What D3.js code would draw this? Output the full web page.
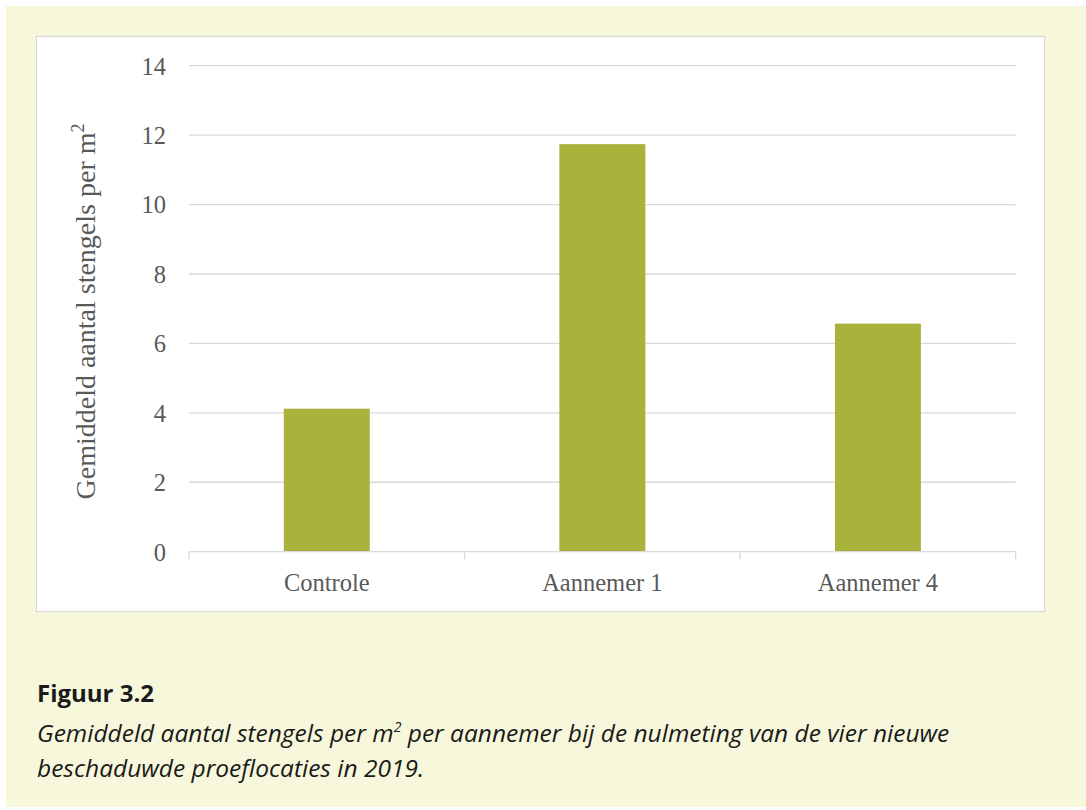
<!DOCTYPE html>
<html><head><meta charset="utf-8">
<script src="https://cdn.jsdelivr.net/npm/d3@7"></script>
<style>body{margin:0;background:#fff;} svg{display:block;}</style>
</head><body>
<svg id="c" width="1086" height="810"></svg>
<script>
const categories = ["Controle", "Aannemer 1", "Aannemer 4"];
const values = [4.12, 11.74, 6.57];
const yTicks = [0, 2, 4, 6, 8, 10, 12, 14];
const yTitle = "Gemiddeld aantal stengels per m";
const captionTitle = "Figuur 3.2";
const captionLines = ["Gemiddeld aantal stengels per m|2| per aannemer bij de nulmeting van de vier nieuwe", "beschaduwde proeflocaties in 2019."];

const svg = d3.select("#c");
svg.append("rect").attr("x", 6).attr("y", 6).attr("width", 1080).attr("height", 801).attr("fill", "#F7F7DB");
svg.append("rect").attr("x", 36.5).attr("y", 36.5).attr("width", 1008).attr("height", 575).attr("fill", "#fff").attr("stroke", "#D9D9D9").attr("stroke-width", 1.2);

const L = 189, R = 1015.7, T = 65.7, B = 551.7;
const x = d3.scaleBand().domain(categories).range([L, R]).padding(0);
const y = d3.scaleLinear().domain([0, 14]).range([B, T]);
const serif = "'Liberation Serif', 'Times New Roman', serif";

// gridlines
svg.append("g").selectAll("line").data(yTicks.filter(d => d > 0)).join("line")
  .attr("x1", L).attr("x2", R).attr("y1", d => y(d)).attr("y2", d => y(d))
  .attr("stroke", "#D9D9D9").attr("stroke-width", 1.3);

// bars
const barFrac = 0.312;
svg.append("g").selectAll("rect").data(values).join("rect")
  .attr("x", (d, i) => x(categories[i]) + x.bandwidth() * (1 - barFrac) / 2)
  .attr("width", x.bandwidth() * barFrac)
  .attr("y", d => y(d)).attr("height", d => y(0) - y(d))
  .attr("fill", "#A9B23A");

// x axis
const xAxis = svg.append("g").attr("transform", `translate(0,${B})`)
  .call(d3.axisBottom(x).tickSize(0).tickPadding(0));
xAxis.select(".domain").remove();
xAxis.append("line").attr("x1", L).attr("x2", R).attr("stroke", "#D9D9D9").attr("stroke-width", 1.3);
const bounds = categories.map(c => x(c)).concat([R]);
xAxis.selectAll(".bt").data(bounds).join("line").attr("class", "bt")
  .attr("x1", d => d).attr("x2", d => d).attr("y1", 0).attr("y2", 7.5)
  .attr("stroke", "#D9D9D9").attr("stroke-width", 1.3);
xAxis.selectAll(".tick text").attr("y", 39).attr("dy", null)
  .attr("font-family", serif).attr("font-size", 24.5).attr("fill", "#595959");

// y axis
const yAxis = svg.append("g").attr("transform", `translate(${L},0)`)
  .call(d3.axisLeft(y).tickValues(yTicks).tickSize(0).tickPadding(23));
yAxis.select(".domain").remove();
yAxis.selectAll(".tick text").attr("dy", "0.34em")
  .attr("font-family", serif).attr("font-size", 24.5).attr("fill", "#595959");

// y title
const yt = svg.append("text")
  .attr("transform", `translate(95,311.5) rotate(-90)`)
  .attr("text-anchor", "middle").attr("font-family", serif).attr("font-size", 28).attr("fill", "#595959");
yt.append("tspan").text(yTitle);
yt.append("tspan").attr("dy", -11).attr("font-size", 18).text("2");

// caption
const sans = "'Open Sans', 'Noto Sans', sans-serif";
svg.append("text").attr("x", 37).attr("y", 701.5).attr("font-family", sans).attr("font-weight", "bold")
  .attr("font-size", 24).attr("fill", "#1a1a1a").text(captionTitle);
captionLines.forEach((ln, i) => {
  const t = svg.append("text").attr("x", 37).attr("y", 741.7 + i * 35).attr("font-family", sans)
    .attr("font-style", "italic").attr("font-size", 24.5).attr("fill", "#1a1a1a");
  ln.split("|").forEach((part, j) => {
    if (j === 1) t.append("tspan").attr("dy", -10).attr("font-size", 14).text(part);
    else if (j === 2) t.append("tspan").attr("dy", 10).text(part);
    else t.append("tspan").text(part);
  });
});
</script>
</body></html>
